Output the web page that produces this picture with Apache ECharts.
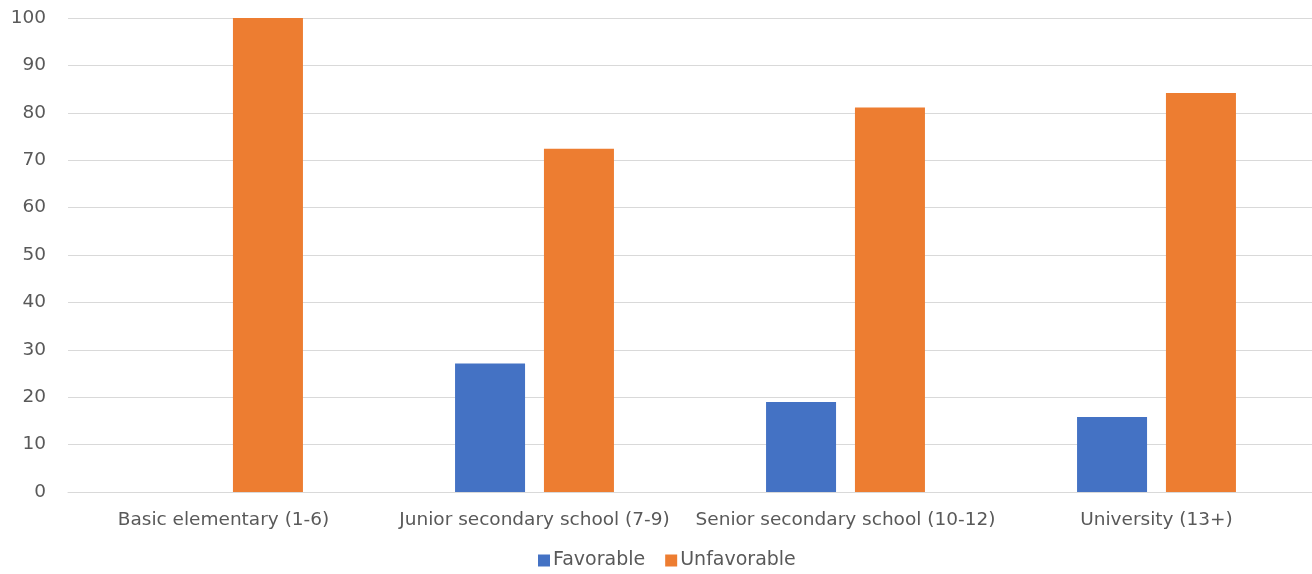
<!DOCTYPE html>
<html>
<head>
<meta charset="utf-8">
<script src="https://cdn.jsdelivr.net/npm/echarts@6/dist/echarts.min.js"></script>
<style>
  html, body { margin: 0; padding: 0; background: #ffffff; }
  #chart { width: 1312px; height: 574px; }
</style>
</head>
<body>
<div id="chart"></div>
<script>
// Education level categories
const categories = [
  'Basic elementary (1-6)',
  'Junior secondary school (7-9)',
  'Senior secondary school (10-12)',
  'University (13+)'
];
// Share of respondents per opinion
const favorable = [0, 27.1, 19.0, 15.8];
const unfavorable = [100, 72.4, 81.1, 84.2];

const textColor = '#595959';
const gridColor = '#d9d9d9';
const fontFamily = '"DejaVu Sans", "Liberation Sans", sans-serif';

const chart = echarts.init(document.getElementById('chart'));
chart.setOption({
  animation: false,
  backgroundColor: '#ffffff',
  textStyle: { fontFamily: fontFamily },
  grid: { left: 68, right: 0, top: 18, bottom: 82, containLabel: false },
  legend: {
    bottom: -1,
    left: 533,
    itemWidth: 12,
    itemHeight: 12,
    itemGap: 20,
    icon: 'rect',
    textStyle: { color: textColor, fontSize: 19, fontFamily: fontFamily, padding: [0, 0, 0, -2] },
    data: ['Favorable', 'Unfavorable']
  },
  xAxis: {
    type: 'category',
    data: categories,
    axisLine: { lineStyle: { color: gridColor, width: 1 } },
    axisTick: { show: false },
    axisLabel: { color: textColor, fontSize: 18.5, margin: 19, interval: 0, fontFamily: fontFamily }
  },
  yAxis: {
    type: 'value',
    min: 0,
    max: 100,
    interval: 10,
    axisLine: { show: false },
    axisTick: { show: false },
    axisLabel: { color: textColor, fontSize: 18.5, margin: 22, fontFamily: fontFamily },
    splitLine: { lineStyle: { color: gridColor, width: 1 } }
  },
  series: [
    {
      name: 'Favorable',
      type: 'bar',
      data: favorable,
      barWidth: 70,
      barGap: '27%',
      itemStyle: { color: '#4472c4' }
    },
    {
      name: 'Unfavorable',
      type: 'bar',
      data: unfavorable,
      barWidth: 70,
      itemStyle: { color: '#ed7d31' }
    }
  ]
});
</script>
</body>
</html>
